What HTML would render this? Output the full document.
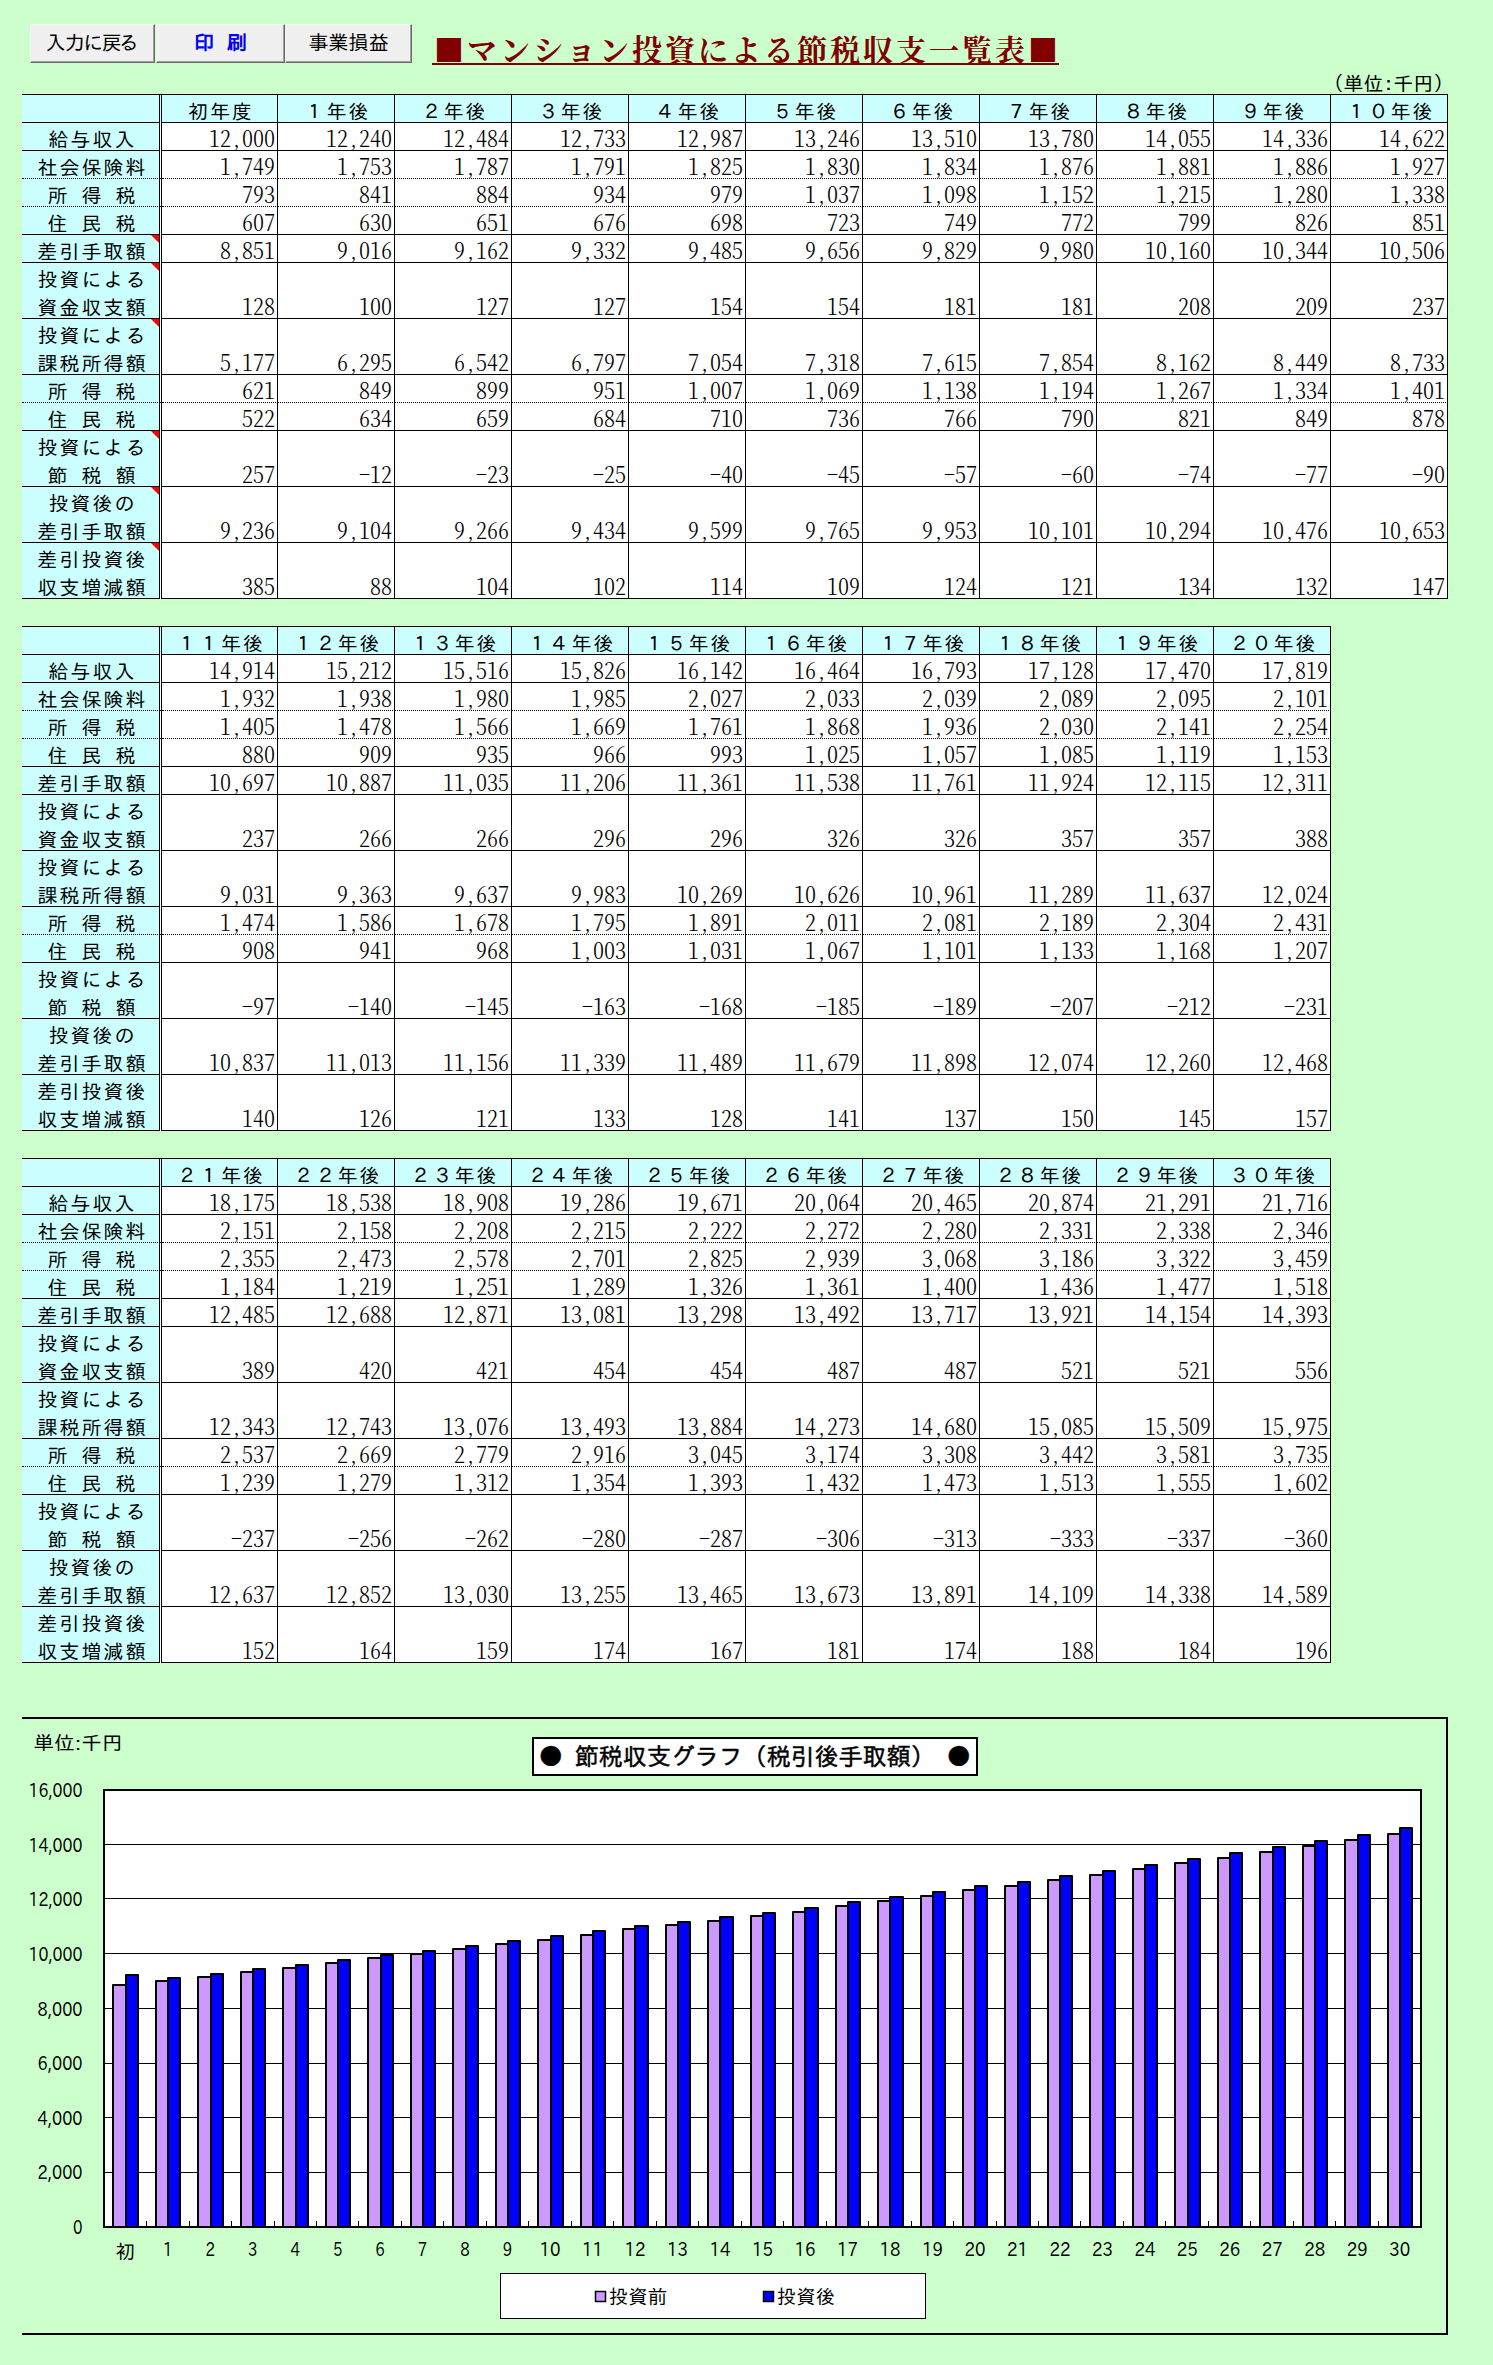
<!DOCTYPE html>
<html lang="ja"><head><meta charset="utf-8"><title>マンション投資による節税収支一覧表</title>
<style>
html,body{margin:0;padding:0}
body{background:#cfc;width:1493px;height:2365px;position:relative;overflow:hidden;
 font-family:"IPAGothic","Noto Sans CJK JP",sans-serif;color:#000}
.btn{position:absolute;top:24px;height:39px;box-sizing:border-box;background:#f0f0f0;
 border:1px solid;border-color:#ecfbec #696969 #696969 #ecfbec;box-shadow:inset -1px -1px 0 #a0a0a0;
 font:20px/34px "IPAPGothic","IPAGothic","Noto Sans CJK JP",sans-serif;text-align:center;white-space:nowrap}
h1{position:absolute;left:432px;top:28px;margin:0;width:627px;height:37px;box-sizing:border-box;padding-left:2px;
 border-bottom:2px solid #800000;color:#800000;white-space:nowrap;text-align:left;letter-spacing:3px;
 font:bold 30px/40px "Noto Serif CJK JP","Noto Serif CJK SC","Liberation Serif",serif;font-kerning:none}
.unit{position:absolute;left:1333.5px;top:72px;width:110px;font-size:20px;line-height:22px;white-space:nowrap}
.tb{position:absolute;left:22px;border-top:1px solid #000;font-size:22px;line-height:28px}
.r{height:28px;position:relative;white-space:nowrap;display:flex}
.r.d{height:56px}
.r>div{box-sizing:border-box;height:100%;border-bottom:1px solid #000;border-right:1px solid #000;overflow:hidden;flex:none}
.r.dot>div{border-bottom:1px dotted #000}
.l{width:138px;background:#cff;text-align:center;position:relative;padding:2px 0 0 4px;font-size:20px;letter-spacing:2px}
.r>.g{width:2px;background:#fff;border-bottom:0}
.h .g{background:#cff}
.c{width:117px;background:#fff;text-align:right;padding:1px 2px 0 0;
 font-family:"Noto Serif CJK SC","Liberation Serif",serif;font-weight:300;font-feature-settings:"hwid"}
.g+.c{width:116px}
.d .c{padding-top:29px}
.h .c{background:#cff;text-align:center;padding:2px 0 0 3px;font-family:"IPAGothic","Noto Sans CJK JP",sans-serif;font-weight:400;font-feature-settings:normal;font-size:20px;letter-spacing:2px}
.l i{position:absolute;right:0;top:0;width:0;height:0;border-left:8px solid transparent;border-top:8px solid #f00}
.chart{position:absolute;left:0}
.chart text{font-family:"IPAPGothic","Liberation Sans",sans-serif;font-size:19.5px;fill:#000}
.chart text.jp{font-family:"IPAPGothic","IPAGothic","Noto Sans CJK JP",sans-serif;font-weight:400;font-size:19.5px}
.chart text.ttl{font-family:"IPAGothic","Noto Sans CJK JP",sans-serif;font-weight:400;font-size:24px;stroke:#000;stroke-width:.45px;white-space:pre}
</style></head><body>
<div class="btn" style="left:30px;width:125px;letter-spacing:-.8px;text-indent:-3px">入力に戻る</div>
<div class="btn" style="left:156px;width:129px;color:#00f;font-weight:bold;word-spacing:7px">印 刷</div>
<div class="btn" style="left:285px;width:127px">事業損益</div>
<h1>■マンション投資による節税収支一覧表■</h1>
<div class="unit">(単位:千円)</div>
<div class="tb" style="top:94px;width:1426px">
<div class="r h"><div class="l"></div><div class="g"></div><div class="c">初年度</div><div class="c">１年後</div><div class="c">２年後</div><div class="c">３年後</div><div class="c">４年後</div><div class="c">５年後</div><div class="c">６年後</div><div class="c">７年後</div><div class="c">８年後</div><div class="c">９年後</div><div class="c">１０年後</div></div>
<div class="r"><div class="l">給与収入</div><div class="g"></div><div class="c">12,000</div><div class="c">12,240</div><div class="c">12,484</div><div class="c">12,733</div><div class="c">12,987</div><div class="c">13,246</div><div class="c">13,510</div><div class="c">13,780</div><div class="c">14,055</div><div class="c">14,336</div><div class="c">14,622</div></div>
<div class="r dot"><div class="l">社会保険料</div><div class="g"></div><div class="c">1,749</div><div class="c">1,753</div><div class="c">1,787</div><div class="c">1,791</div><div class="c">1,825</div><div class="c">1,830</div><div class="c">1,834</div><div class="c">1,876</div><div class="c">1,881</div><div class="c">1,886</div><div class="c">1,927</div></div>
<div class="r dot"><div class="l">所 得 税</div><div class="g"></div><div class="c">793</div><div class="c">841</div><div class="c">884</div><div class="c">934</div><div class="c">979</div><div class="c">1,037</div><div class="c">1,098</div><div class="c">1,152</div><div class="c">1,215</div><div class="c">1,280</div><div class="c">1,338</div></div>
<div class="r"><div class="l">住 民 税</div><div class="g"></div><div class="c">607</div><div class="c">630</div><div class="c">651</div><div class="c">676</div><div class="c">698</div><div class="c">723</div><div class="c">749</div><div class="c">772</div><div class="c">799</div><div class="c">826</div><div class="c">851</div></div>
<div class="r"><div class="l">差引手取額<i></i></div><div class="g"></div><div class="c">8,851</div><div class="c">9,016</div><div class="c">9,162</div><div class="c">9,332</div><div class="c">9,485</div><div class="c">9,656</div><div class="c">9,829</div><div class="c">9,980</div><div class="c">10,160</div><div class="c">10,344</div><div class="c">10,506</div></div>
<div class="r d"><div class="l">投資による<br>資金収支額<i></i></div><div class="g"></div><div class="c">128</div><div class="c">100</div><div class="c">127</div><div class="c">127</div><div class="c">154</div><div class="c">154</div><div class="c">181</div><div class="c">181</div><div class="c">208</div><div class="c">209</div><div class="c">237</div></div>
<div class="r d"><div class="l">投資による<br>課税所得額<i></i></div><div class="g"></div><div class="c">5,177</div><div class="c">6,295</div><div class="c">6,542</div><div class="c">6,797</div><div class="c">7,054</div><div class="c">7,318</div><div class="c">7,615</div><div class="c">7,854</div><div class="c">8,162</div><div class="c">8,449</div><div class="c">8,733</div></div>
<div class="r dot"><div class="l">所 得 税</div><div class="g"></div><div class="c">621</div><div class="c">849</div><div class="c">899</div><div class="c">951</div><div class="c">1,007</div><div class="c">1,069</div><div class="c">1,138</div><div class="c">1,194</div><div class="c">1,267</div><div class="c">1,334</div><div class="c">1,401</div></div>
<div class="r"><div class="l">住 民 税</div><div class="g"></div><div class="c">522</div><div class="c">634</div><div class="c">659</div><div class="c">684</div><div class="c">710</div><div class="c">736</div><div class="c">766</div><div class="c">790</div><div class="c">821</div><div class="c">849</div><div class="c">878</div></div>
<div class="r d"><div class="l">投資による<br>節 税 額<i></i></div><div class="g"></div><div class="c">257</div><div class="c">-12</div><div class="c">-23</div><div class="c">-25</div><div class="c">-40</div><div class="c">-45</div><div class="c">-57</div><div class="c">-60</div><div class="c">-74</div><div class="c">-77</div><div class="c">-90</div></div>
<div class="r d"><div class="l">投資後の<br>差引手取額<i></i></div><div class="g"></div><div class="c">9,236</div><div class="c">9,104</div><div class="c">9,266</div><div class="c">9,434</div><div class="c">9,599</div><div class="c">9,765</div><div class="c">9,953</div><div class="c">10,101</div><div class="c">10,294</div><div class="c">10,476</div><div class="c">10,653</div></div>
<div class="r d"><div class="l">差引投資後<br>収支増減額<i></i></div><div class="g"></div><div class="c">385</div><div class="c">88</div><div class="c">104</div><div class="c">102</div><div class="c">114</div><div class="c">109</div><div class="c">124</div><div class="c">121</div><div class="c">134</div><div class="c">132</div><div class="c">147</div></div>
</div>
<div class="tb" style="top:626px;width:1309px">
<div class="r h"><div class="l"></div><div class="g"></div><div class="c">１１年後</div><div class="c">１２年後</div><div class="c">１３年後</div><div class="c">１４年後</div><div class="c">１５年後</div><div class="c">１６年後</div><div class="c">１７年後</div><div class="c">１８年後</div><div class="c">１９年後</div><div class="c">２０年後</div></div>
<div class="r"><div class="l">給与収入</div><div class="g"></div><div class="c">14,914</div><div class="c">15,212</div><div class="c">15,516</div><div class="c">15,826</div><div class="c">16,142</div><div class="c">16,464</div><div class="c">16,793</div><div class="c">17,128</div><div class="c">17,470</div><div class="c">17,819</div></div>
<div class="r dot"><div class="l">社会保険料</div><div class="g"></div><div class="c">1,932</div><div class="c">1,938</div><div class="c">1,980</div><div class="c">1,985</div><div class="c">2,027</div><div class="c">2,033</div><div class="c">2,039</div><div class="c">2,089</div><div class="c">2,095</div><div class="c">2,101</div></div>
<div class="r dot"><div class="l">所 得 税</div><div class="g"></div><div class="c">1,405</div><div class="c">1,478</div><div class="c">1,566</div><div class="c">1,669</div><div class="c">1,761</div><div class="c">1,868</div><div class="c">1,936</div><div class="c">2,030</div><div class="c">2,141</div><div class="c">2,254</div></div>
<div class="r"><div class="l">住 民 税</div><div class="g"></div><div class="c">880</div><div class="c">909</div><div class="c">935</div><div class="c">966</div><div class="c">993</div><div class="c">1,025</div><div class="c">1,057</div><div class="c">1,085</div><div class="c">1,119</div><div class="c">1,153</div></div>
<div class="r"><div class="l">差引手取額</div><div class="g"></div><div class="c">10,697</div><div class="c">10,887</div><div class="c">11,035</div><div class="c">11,206</div><div class="c">11,361</div><div class="c">11,538</div><div class="c">11,761</div><div class="c">11,924</div><div class="c">12,115</div><div class="c">12,311</div></div>
<div class="r d"><div class="l">投資による<br>資金収支額</div><div class="g"></div><div class="c">237</div><div class="c">266</div><div class="c">266</div><div class="c">296</div><div class="c">296</div><div class="c">326</div><div class="c">326</div><div class="c">357</div><div class="c">357</div><div class="c">388</div></div>
<div class="r d"><div class="l">投資による<br>課税所得額</div><div class="g"></div><div class="c">9,031</div><div class="c">9,363</div><div class="c">9,637</div><div class="c">9,983</div><div class="c">10,269</div><div class="c">10,626</div><div class="c">10,961</div><div class="c">11,289</div><div class="c">11,637</div><div class="c">12,024</div></div>
<div class="r dot"><div class="l">所 得 税</div><div class="g"></div><div class="c">1,474</div><div class="c">1,586</div><div class="c">1,678</div><div class="c">1,795</div><div class="c">1,891</div><div class="c">2,011</div><div class="c">2,081</div><div class="c">2,189</div><div class="c">2,304</div><div class="c">2,431</div></div>
<div class="r"><div class="l">住 民 税</div><div class="g"></div><div class="c">908</div><div class="c">941</div><div class="c">968</div><div class="c">1,003</div><div class="c">1,031</div><div class="c">1,067</div><div class="c">1,101</div><div class="c">1,133</div><div class="c">1,168</div><div class="c">1,207</div></div>
<div class="r d"><div class="l">投資による<br>節 税 額</div><div class="g"></div><div class="c">-97</div><div class="c">-140</div><div class="c">-145</div><div class="c">-163</div><div class="c">-168</div><div class="c">-185</div><div class="c">-189</div><div class="c">-207</div><div class="c">-212</div><div class="c">-231</div></div>
<div class="r d"><div class="l">投資後の<br>差引手取額</div><div class="g"></div><div class="c">10,837</div><div class="c">11,013</div><div class="c">11,156</div><div class="c">11,339</div><div class="c">11,489</div><div class="c">11,679</div><div class="c">11,898</div><div class="c">12,074</div><div class="c">12,260</div><div class="c">12,468</div></div>
<div class="r d"><div class="l">差引投資後<br>収支増減額</div><div class="g"></div><div class="c">140</div><div class="c">126</div><div class="c">121</div><div class="c">133</div><div class="c">128</div><div class="c">141</div><div class="c">137</div><div class="c">150</div><div class="c">145</div><div class="c">157</div></div>
</div>
<div class="tb" style="top:1158px;width:1309px">
<div class="r h"><div class="l"></div><div class="g"></div><div class="c">２１年後</div><div class="c">２２年後</div><div class="c">２３年後</div><div class="c">２４年後</div><div class="c">２５年後</div><div class="c">２６年後</div><div class="c">２７年後</div><div class="c">２８年後</div><div class="c">２９年後</div><div class="c">３０年後</div></div>
<div class="r"><div class="l">給与収入</div><div class="g"></div><div class="c">18,175</div><div class="c">18,538</div><div class="c">18,908</div><div class="c">19,286</div><div class="c">19,671</div><div class="c">20,064</div><div class="c">20,465</div><div class="c">20,874</div><div class="c">21,291</div><div class="c">21,716</div></div>
<div class="r dot"><div class="l">社会保険料</div><div class="g"></div><div class="c">2,151</div><div class="c">2,158</div><div class="c">2,208</div><div class="c">2,215</div><div class="c">2,222</div><div class="c">2,272</div><div class="c">2,280</div><div class="c">2,331</div><div class="c">2,338</div><div class="c">2,346</div></div>
<div class="r dot"><div class="l">所 得 税</div><div class="g"></div><div class="c">2,355</div><div class="c">2,473</div><div class="c">2,578</div><div class="c">2,701</div><div class="c">2,825</div><div class="c">2,939</div><div class="c">3,068</div><div class="c">3,186</div><div class="c">3,322</div><div class="c">3,459</div></div>
<div class="r"><div class="l">住 民 税</div><div class="g"></div><div class="c">1,184</div><div class="c">1,219</div><div class="c">1,251</div><div class="c">1,289</div><div class="c">1,326</div><div class="c">1,361</div><div class="c">1,400</div><div class="c">1,436</div><div class="c">1,477</div><div class="c">1,518</div></div>
<div class="r"><div class="l">差引手取額</div><div class="g"></div><div class="c">12,485</div><div class="c">12,688</div><div class="c">12,871</div><div class="c">13,081</div><div class="c">13,298</div><div class="c">13,492</div><div class="c">13,717</div><div class="c">13,921</div><div class="c">14,154</div><div class="c">14,393</div></div>
<div class="r d"><div class="l">投資による<br>資金収支額</div><div class="g"></div><div class="c">389</div><div class="c">420</div><div class="c">421</div><div class="c">454</div><div class="c">454</div><div class="c">487</div><div class="c">487</div><div class="c">521</div><div class="c">521</div><div class="c">556</div></div>
<div class="r d"><div class="l">投資による<br>課税所得額</div><div class="g"></div><div class="c">12,343</div><div class="c">12,743</div><div class="c">13,076</div><div class="c">13,493</div><div class="c">13,884</div><div class="c">14,273</div><div class="c">14,680</div><div class="c">15,085</div><div class="c">15,509</div><div class="c">15,975</div></div>
<div class="r dot"><div class="l">所 得 税</div><div class="g"></div><div class="c">2,537</div><div class="c">2,669</div><div class="c">2,779</div><div class="c">2,916</div><div class="c">3,045</div><div class="c">3,174</div><div class="c">3,308</div><div class="c">3,442</div><div class="c">3,581</div><div class="c">3,735</div></div>
<div class="r"><div class="l">住 民 税</div><div class="g"></div><div class="c">1,239</div><div class="c">1,279</div><div class="c">1,312</div><div class="c">1,354</div><div class="c">1,393</div><div class="c">1,432</div><div class="c">1,473</div><div class="c">1,513</div><div class="c">1,555</div><div class="c">1,602</div></div>
<div class="r d"><div class="l">投資による<br>節 税 額</div><div class="g"></div><div class="c">-237</div><div class="c">-256</div><div class="c">-262</div><div class="c">-280</div><div class="c">-287</div><div class="c">-306</div><div class="c">-313</div><div class="c">-333</div><div class="c">-337</div><div class="c">-360</div></div>
<div class="r d"><div class="l">投資後の<br>差引手取額</div><div class="g"></div><div class="c">12,637</div><div class="c">12,852</div><div class="c">13,030</div><div class="c">13,255</div><div class="c">13,465</div><div class="c">13,673</div><div class="c">13,891</div><div class="c">14,109</div><div class="c">14,338</div><div class="c">14,589</div></div>
<div class="r d"><div class="l">差引投資後<br>収支増減額</div><div class="g"></div><div class="c">152</div><div class="c">164</div><div class="c">159</div><div class="c">174</div><div class="c">167</div><div class="c">181</div><div class="c">174</div><div class="c">188</div><div class="c">184</div><div class="c">196</div></div>
</div>
<svg class="chart" style="top:1700px" width="1493" height="665" viewBox="0 1700 1493 665">
<path d="M22 1718H1447V2334H22" fill="none" stroke="#000" stroke-width="2"/>
<rect x="104" y="1790" width="1317" height="437" fill="#fff"/>
<path d="M104 2172.5H1421M104 2117.5H1421M104 2063.5H1421M104 2008.5H1421M104 1953.5H1421M104 1898.5H1421M104 1844.5H1421" stroke="#000" stroke-width="1" fill="none"/>
<g stroke="#000" stroke-width="2" stroke-linejoin="round">
<rect x="113" y="1985" width="13" height="242" fill="#c9f"/><rect x="126" y="1975" width="12" height="252" fill="#00f"/>
<rect x="156" y="1981" width="12" height="246" fill="#c9f"/><rect x="168" y="1978" width="12" height="249" fill="#00f"/>
<rect x="198" y="1977" width="13" height="250" fill="#c9f"/><rect x="211" y="1974" width="12" height="253" fill="#00f"/>
<rect x="241" y="1972" width="12" height="255" fill="#c9f"/><rect x="253" y="1969" width="12" height="258" fill="#00f"/>
<rect x="283" y="1968" width="13" height="259" fill="#c9f"/><rect x="296" y="1965" width="12" height="262" fill="#00f"/>
<rect x="326" y="1963" width="12" height="264" fill="#c9f"/><rect x="338" y="1960" width="12" height="267" fill="#00f"/>
<rect x="368" y="1958" width="13" height="269" fill="#c9f"/><rect x="381" y="1955" width="12" height="272" fill="#00f"/>
<rect x="411" y="1954" width="12" height="273" fill="#c9f"/><rect x="423" y="1951" width="12" height="276" fill="#00f"/>
<rect x="453" y="1949" width="13" height="278" fill="#c9f"/><rect x="466" y="1946" width="12" height="281" fill="#00f"/>
<rect x="496" y="1944" width="12" height="283" fill="#c9f"/><rect x="508" y="1941" width="12" height="286" fill="#00f"/>
<rect x="538" y="1940" width="13" height="287" fill="#c9f"/><rect x="551" y="1936" width="12" height="291" fill="#00f"/>
<rect x="581" y="1935" width="12" height="292" fill="#c9f"/><rect x="593" y="1931" width="12" height="296" fill="#00f"/>
<rect x="623" y="1929" width="12" height="298" fill="#c9f"/><rect x="635" y="1926" width="13" height="301" fill="#00f"/>
<rect x="666" y="1925" width="12" height="302" fill="#c9f"/><rect x="678" y="1922" width="12" height="305" fill="#00f"/>
<rect x="708" y="1921" width="12" height="306" fill="#c9f"/><rect x="720" y="1917" width="13" height="310" fill="#00f"/>
<rect x="751" y="1916" width="12" height="311" fill="#c9f"/><rect x="763" y="1913" width="12" height="314" fill="#00f"/>
<rect x="793" y="1912" width="12" height="315" fill="#c9f"/><rect x="805" y="1908" width="13" height="319" fill="#00f"/>
<rect x="836" y="1906" width="12" height="321" fill="#c9f"/><rect x="848" y="1902" width="12" height="325" fill="#00f"/>
<rect x="878" y="1901" width="12" height="326" fill="#c9f"/><rect x="890" y="1897" width="13" height="330" fill="#00f"/>
<rect x="921" y="1896" width="12" height="331" fill="#c9f"/><rect x="933" y="1892" width="12" height="335" fill="#00f"/>
<rect x="963" y="1890" width="12" height="337" fill="#c9f"/><rect x="975" y="1886" width="12" height="341" fill="#00f"/>
<rect x="1005" y="1886" width="13" height="341" fill="#c9f"/><rect x="1018" y="1882" width="12" height="345" fill="#00f"/>
<rect x="1048" y="1880" width="12" height="347" fill="#c9f"/><rect x="1060" y="1876" width="12" height="351" fill="#00f"/>
<rect x="1090" y="1875" width="13" height="352" fill="#c9f"/><rect x="1103" y="1871" width="12" height="356" fill="#00f"/>
<rect x="1133" y="1869" width="12" height="358" fill="#c9f"/><rect x="1145" y="1865" width="12" height="362" fill="#00f"/>
<rect x="1175" y="1863" width="13" height="364" fill="#c9f"/><rect x="1188" y="1859" width="12" height="368" fill="#00f"/>
<rect x="1218" y="1858" width="12" height="369" fill="#c9f"/><rect x="1230" y="1853" width="12" height="374" fill="#00f"/>
<rect x="1260" y="1852" width="13" height="375" fill="#c9f"/><rect x="1273" y="1847" width="12" height="380" fill="#00f"/>
<rect x="1303" y="1846" width="12" height="381" fill="#c9f"/><rect x="1315" y="1841" width="12" height="386" fill="#00f"/>
<rect x="1345" y="1840" width="13" height="387" fill="#c9f"/><rect x="1358" y="1835" width="12" height="392" fill="#00f"/>
<rect x="1388" y="1834" width="12" height="393" fill="#c9f"/><rect x="1400" y="1828" width="12" height="399" fill="#00f"/>
</g>
<path d="M146.5 2221V2227M189.5 2221V2227M231.5 2221V2227M274.5 2221V2227M316.5 2221V2227M358.5 2221V2227M401.5 2221V2227M443.5 2221V2227M486.5 2221V2227M528.5 2221V2227M571.5 2221V2227M613.5 2221V2227M656.5 2221V2227M698.5 2221V2227M741.5 2221V2227M783.5 2221V2227M826.5 2221V2227M868.5 2221V2227M911.5 2221V2227M953.5 2221V2227M996.5 2221V2227M1038.5 2221V2227M1080.5 2221V2227M1123.5 2221V2227M1165.5 2221V2227M1208.5 2221V2227M1250.5 2221V2227M1293.5 2221V2227M1335.5 2221V2227M1378.5 2221V2227" stroke="#000" stroke-width="1" fill="none"/>
<rect x="104" y="1790" width="1317" height="437" fill="none" stroke="#000" stroke-width="2"/>
<g class="ax" text-anchor="end">
<text x="82.5" y="2234.0" textLength="9.5" lengthAdjust="spacingAndGlyphs">0</text>
<text x="82.5" y="2179.4" textLength="45" lengthAdjust="spacingAndGlyphs">2,000</text>
<text x="82.5" y="2124.8" textLength="45" lengthAdjust="spacingAndGlyphs">4,000</text>
<text x="82.5" y="2070.1" textLength="45" lengthAdjust="spacingAndGlyphs">6,000</text>
<text x="82.5" y="2015.5" textLength="45" lengthAdjust="spacingAndGlyphs">8,000</text>
<text x="82.5" y="1960.9" textLength="54" lengthAdjust="spacingAndGlyphs">10,000</text>
<text x="82.5" y="1906.2" textLength="54" lengthAdjust="spacingAndGlyphs">12,000</text>
<text x="82.5" y="1851.6" textLength="54" lengthAdjust="spacingAndGlyphs">14,000</text>
<text x="82.5" y="1797.0" textLength="54" lengthAdjust="spacingAndGlyphs">16,000</text>
</g>
<g class="ax" text-anchor="middle">
<text class="jp" x="125.2" y="2258.5">初</text>
<text x="167.7" y="2256" textLength="9.5" lengthAdjust="spacingAndGlyphs">1</text>
<text x="210.2" y="2256" textLength="9.5" lengthAdjust="spacingAndGlyphs">2</text>
<text x="252.7" y="2256" textLength="9.5" lengthAdjust="spacingAndGlyphs">3</text>
<text x="295.2" y="2256" textLength="9.5" lengthAdjust="spacingAndGlyphs">4</text>
<text x="337.7" y="2256" textLength="9.5" lengthAdjust="spacingAndGlyphs">5</text>
<text x="380.1" y="2256" textLength="9.5" lengthAdjust="spacingAndGlyphs">6</text>
<text x="422.6" y="2256" textLength="9.5" lengthAdjust="spacingAndGlyphs">7</text>
<text x="465.1" y="2256" textLength="9.5" lengthAdjust="spacingAndGlyphs">8</text>
<text x="507.6" y="2256" textLength="9.5" lengthAdjust="spacingAndGlyphs">9</text>
<text x="550.1" y="2256" textLength="21" lengthAdjust="spacingAndGlyphs">10</text>
<text x="592.6" y="2256" textLength="21" lengthAdjust="spacingAndGlyphs">11</text>
<text x="635.0" y="2256" textLength="21" lengthAdjust="spacingAndGlyphs">12</text>
<text x="677.5" y="2256" textLength="21" lengthAdjust="spacingAndGlyphs">13</text>
<text x="720.0" y="2256" textLength="21" lengthAdjust="spacingAndGlyphs">14</text>
<text x="762.5" y="2256" textLength="21" lengthAdjust="spacingAndGlyphs">15</text>
<text x="805.0" y="2256" textLength="21" lengthAdjust="spacingAndGlyphs">16</text>
<text x="847.5" y="2256" textLength="21" lengthAdjust="spacingAndGlyphs">17</text>
<text x="890.0" y="2256" textLength="21" lengthAdjust="spacingAndGlyphs">18</text>
<text x="932.4" y="2256" textLength="21" lengthAdjust="spacingAndGlyphs">19</text>
<text x="974.9" y="2256" textLength="21" lengthAdjust="spacingAndGlyphs">20</text>
<text x="1017.4" y="2256" textLength="21" lengthAdjust="spacingAndGlyphs">21</text>
<text x="1059.9" y="2256" textLength="21" lengthAdjust="spacingAndGlyphs">22</text>
<text x="1102.4" y="2256" textLength="21" lengthAdjust="spacingAndGlyphs">23</text>
<text x="1144.9" y="2256" textLength="21" lengthAdjust="spacingAndGlyphs">24</text>
<text x="1187.3" y="2256" textLength="21" lengthAdjust="spacingAndGlyphs">25</text>
<text x="1229.8" y="2256" textLength="21" lengthAdjust="spacingAndGlyphs">26</text>
<text x="1272.3" y="2256" textLength="21" lengthAdjust="spacingAndGlyphs">27</text>
<text x="1314.8" y="2256" textLength="21" lengthAdjust="spacingAndGlyphs">28</text>
<text x="1357.3" y="2256" textLength="21" lengthAdjust="spacingAndGlyphs">29</text>
<text x="1399.8" y="2256" textLength="21" lengthAdjust="spacingAndGlyphs">30</text>
</g>
<text class="jp" x="33.5" y="1750" textLength="89" lengthAdjust="spacingAndGlyphs">単位:千円</text>
<rect x="533" y="1738" width="444" height="37" fill="#fff" stroke="#000" stroke-width="2"/>
<text class="ttl" x="538.8" y="1765">● 節税収支グラフ（税引後手取額） ●</text>
<rect x="500.5" y="2273.5" width="425" height="45" fill="#fff" stroke="#000" stroke-width="1"/>
<rect x="595.5" y="2291.5" width="10" height="10" fill="#c9f" stroke="#000" stroke-width="1.5"/>
<text class="jp" x="609" y="2304" textLength="58" lengthAdjust="spacingAndGlyphs">投資前</text>
<rect x="763.5" y="2291.5" width="10" height="10" fill="#00f" stroke="#000" stroke-width="1.5"/>
<text class="jp" x="777" y="2304" textLength="58" lengthAdjust="spacingAndGlyphs">投資後</text>
</svg>
</body></html>
